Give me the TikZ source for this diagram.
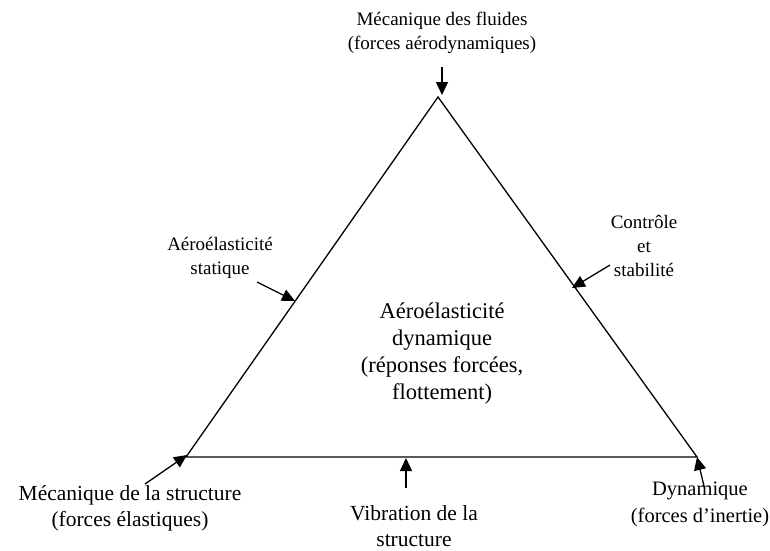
\documentclass[tikz,border=0pt]{standalone}
\usepackage{fontspec}
\setmainfont{Liberation Serif}
\usetikzlibrary{arrows.meta}
\begin{document}
\begin{tikzpicture}[x=1pt,y=-1pt,
  edge/.style={line width=1.3pt,line join=miter},
  feed/.style={line width=1.3pt,-{Triangle[length=13pt,width=12pt]}},
  toplbl/.style={align=center,inner sep=0pt,font=\fontsize{19}{24}\selectfont},
  lbl/.style={align=center,inner sep=0pt,font=\fontsize{21.5}{26}\selectfont},
  dynlbl/.style={align=center,inner sep=0pt,font=\fontsize{20.5}{27}\selectfont},
  small/.style={align=center,inner sep=0pt,font=\fontsize{19}{24}\selectfont},
  big/.style={align=center,inner sep=0pt,font=\fontsize{22.5}{27}\selectfont}]
\useasboundingbox (0,0) rectangle (770,550);
% triangle corners
\coordinate (T) at (438,97);
\coordinate (L) at (186,457);
\coordinate (R) at (697,457);
\draw[edge] (T) -- (L) -- (R) -- cycle;
% arrow targets on the sides
\coordinate (TT) at (442,95);
\coordinate (LS) at (295,301);
\coordinate (RS) at (572,288);
\coordinate (BS) at (406,458);
\coordinate (LL) at (187,455);
\coordinate (RR) at (697,457);
% arrow sources
\coordinate (TTs) at (442,67);
\coordinate (LSs) at (257,282);
\coordinate (RSs) at (610,265);
\coordinate (BSs) at (406,488);
\coordinate (LLs) at (145,484);
\coordinate (RRs) at (704,486);
\draw[feed] (TTs) -- (TT);
\draw[feed] (LSs) -- (LS);
\draw[feed] (RSs) -- (RS);
\draw[feed] (BSs) -- (BS);
\draw[feed] (LLs) -- (LL);
\draw[feed] (RRs) -- (RR);
% labels
\node[toplbl] (fl) at (442,33) {Mécanique des fluides\\(forces aérodynamiques)};
\node[big] (ce) at (442,354) {Aéroélasticité\\dynamique\\(réponses forcées,\\flottement)};
\node[small] (st) at (220,258) {Aéroélasticité\\statique};
\node[small] (cs) at (644,246) {Contrôle\\et\\stabilité};
\node[lbl] (ms) at (130,508) {Mécanique de la structure\\(forces élastiques)};
\node[lbl] (vs) at (414,526) {Vibration de la\\structure};
\node[dynlbl] (dy) at (700,504) {Dynamique\\(forces d’inertie)};
\end{tikzpicture}
\end{document}
